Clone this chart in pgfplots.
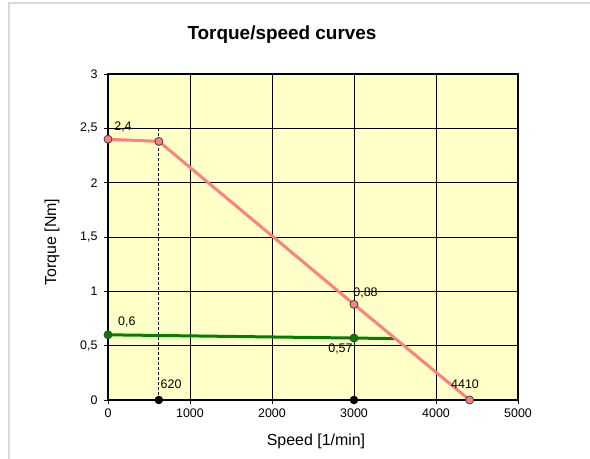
\documentclass[border=0pt]{standalone}
\usepackage{pgfplots}
\pgfplotsset{compat=1.18}
\usepackage{fontspec}
\setmainfont{Liberation Sans}
\definecolor{pinkc}{HTML}{FF8080}
\definecolor{greenc}{HTML}{008000}
\definecolor{bgy}{HTML}{FFFFC8}
\begin{document}
\begin{tikzpicture}
\path[use as bounding box] (0,0) rectangle (590bp,459bp);
\draw[black!15, line width=1.5bp] (9bp,0) -- (9bp,456bp) -- (590bp,456bp);
\node[font=\fontsize{19}{21}\selectfont\bfseries, anchor=base] at (282bp,419bp) {Torque/speed curves};
\node[font=\fontsize{16}{18}\selectfont, anchor=base] at (316bp,14bp) {Speed [1/min]};
\node[font=\fontsize{16}{18}\selectfont, rotate=90] at (52bp,217bp) {Torque [Nm]};
\begin{axis}[at={(108bp,59bp)}, anchor=south west, scale only axis,
  width=410bp, height=326bp,
  xmin=0, xmax=5000, ymin=0, ymax=3,
  xtick={0,1000,...,5000}, ytick={0,0.5,...,3},
  grid=major, grid style={black, line width=0.6bp},
  axis line style={line width=2bp},
  axis background/.style={fill=bgy},
  tick align=outside, major tick length=4bp,
  xtick pos=bottom, ytick pos=left,
  tick style={black, line width=0.6bp},
  /pgf/number format/use comma,
  /pgf/number format/1000 sep={},
  /pgf/number format/assume math mode=true,
  ticklabel style={font=\fontsize{12.5}{14}\selectfont},
  yticklabel style={xshift=-3bp},
  xticklabel style={yshift=-1bp},
  clip=false]
\addplot[black, densely dashed, line width=0.8bp] coordinates {(620,0) (620,2.52)};
\addplot[greenc, line width=3bp] coordinates {(0,0.6) (3000,0.57) (3500,0.565)};
\addplot[pinkc, line width=3bp] coordinates {(0,2.4) (620,2.38) (3000,0.88) (4410,0)};
\addplot[only marks, mark=*, mark size=4bp, mark options={fill=pinkc, draw=black!75, line width=0.8bp}] coordinates {(0,2.4) (620,2.38) (3000,0.88) (4410,0)};
\addplot[only marks, mark=*, mark size=4bp, mark options={fill=greenc, draw=black!75, line width=0.8bp}] coordinates {(0,0.6) (3000,0.57)};
\addplot[only marks, mark=*, mark size=4bp, black] coordinates {(620,0) (3000,0)};
\node[font=\fontsize{12.5}{14}\selectfont, anchor=base west, inner sep=0] at (axis cs:75,2.48) {2,4};
\node[font=\fontsize{12.5}{14}\selectfont, anchor=base west, inner sep=0] at (axis cs:640,0.11) {620};
\node[font=\fontsize{12.5}{14}\selectfont, anchor=base west, inner sep=0] at (axis cs:2990,0.95) {0,88};
\node[font=\fontsize{12.5}{14}\selectfont, anchor=base east, inner sep=0] at (axis cs:2985,0.44) {0,57};
\node[font=\fontsize{12.5}{14}\selectfont, anchor=base west, inner sep=0] at (axis cs:4183,0.11) {4410};
\node[font=\fontsize{12.5}{14}\selectfont, anchor=base west, inner sep=0] at (axis cs:122,0.69) {0,6};
\end{axis}
\end{tikzpicture}
\end{document}
